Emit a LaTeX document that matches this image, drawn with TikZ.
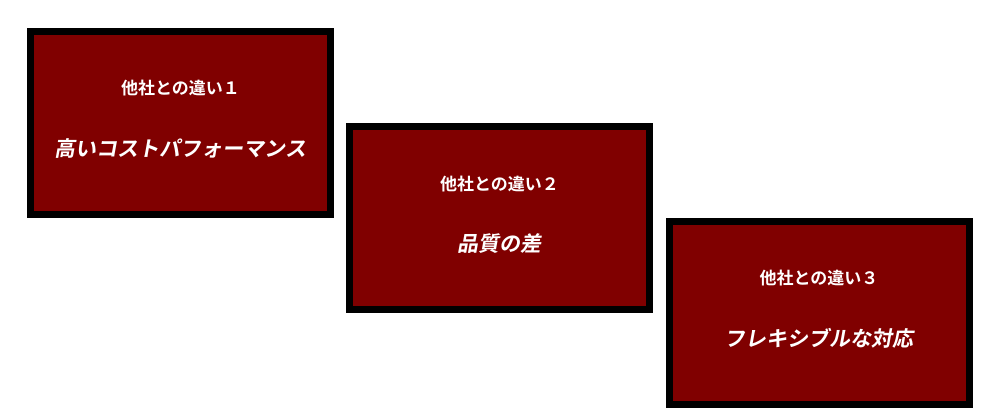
\documentclass[tikz,border=0pt]{standalone}
\usepackage{fontspec}
\newfontfamily\cjk{Noto Sans CJK JP}[BoldFont={Noto Sans CJK JP Bold}]
\newfontfamily\cjkslant{Noto Sans CJK JP Bold}[FakeSlant=0.18]
\definecolor{boxred}{HTML}{800000}
\begin{document}
\begin{tikzpicture}[x=1pt,y=-1pt,
  panel/.style={draw=black,fill=boxred,line width=7pt,minimum width=300pt,minimum height=183pt,inner sep=0pt},
  title/.style={text=white,font=\cjk\bfseries\fontsize{17}{19}\selectfont,inner sep=0pt},
  maintext/.style={text=white,font=\cjkslant\fontsize{21}{23}\selectfont,inner sep=0pt}]
\useasboundingbox (0,0) rectangle (1000,409);
\node[panel] (p1) at (180.5,123) {};
\node[panel] (p2) at (499.5,218) {};
\node[panel] (p3) at (819,313) {};
\node[title] (t1) at ([yshift=35pt]p1.center) {他社との違い１};
\node[maintext] (m1) at ([yshift=-26pt]p1.center) {高いコストパフォーマンス};
\node[title] (t2) at ([yshift=34pt]p2.center) {他社との違い２};
\node[maintext] (m2) at ([yshift=-26pt]p2.center) {品質の差};
\node[title] (t3) at ([yshift=35pt]p3.center) {他社との違い３};
\node[maintext] (m3) at ([yshift=-25pt]p3.center) {フレキシブルな対応};
\end{tikzpicture}
\end{document}
